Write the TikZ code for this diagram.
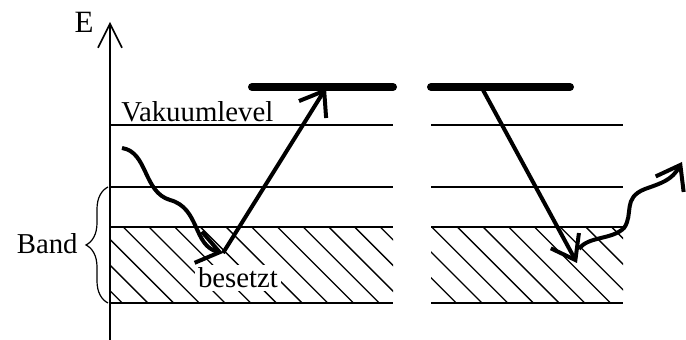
\documentclass[tikz,border=0pt]{standalone}
\usepackage{fontspec}
\setmainfont{Liberation Serif}
\usetikzlibrary{arrows.meta, positioning, decorations.pathreplacing}

\begin{document}
\begin{tikzpicture}[
    x=0.5pt, y=-0.5pt,
    lbl/.style={font=\fontsize{14.4}{17}\selectfont, inner sep=0pt},
    level/.style={line width=0.8pt},
    hatch/.style={line width=0.65pt},
    bar/.style={line width=4pt, line cap=round},
    axis/.style={line width=0.8pt, -{Straight Barb[length=12pt, width=12pt]}},
    jump/.style={line width=2pt, -{Straight Barb[length=11pt, width=16pt]}},
    photon/.style={jump},  % wavy light quantum
    bracestyle/.style={line width=0.6pt, decorate, decoration={brace, amplitude=11pt}}
]
\useasboundingbox (0,0) rectangle (686,340);

% ===== AXIS =====
\coordinate (axisBot) at (110,340);
\coordinate (axisTip) at (110,22);
\draw[axis] (axisBot) -- (axisTip);
\node[lbl, font=\fontsize{15.5}{18}\selectfont, anchor=base] (elabel) at (84,33) {E};

% ===== HATCHED (OCCUPIED) BAND =====
\begin{scope}
  \clip (110,227) rectangle (393,303);
  \foreach \k in {-3,...,10}
    \draw[hatch] ({123.3+25.7*\k},227) -- ++(80,80);
\end{scope}
\begin{scope}
  \clip (431,227) rectangle (623,303);
  \foreach \k in {10,...,19}
    \draw[hatch] ({123.3+25.7*\k},227) -- ++(80,80);
\end{scope}

% ===== LEVELS =====
% left panel
\draw[level] (110,125) -- (393,125);
\draw[level] (110,187) -- (393,187);
\draw[level] (110,227) -- (393,227);
\draw[level] (110,303) -- (393,303);
% right panel
\draw[level] (431,125) -- (623,125);
\draw[level] (431,187) -- (623,187);
\draw[level] (431,227) -- (623,227);
\draw[level] (431,303) -- (623,303);

% excited states
\draw[bar] (252,87) -- (393,87);
\draw[bar] (431,87) -- (570,87);

% ===== LABELS =====
\node[lbl, anchor=base west] (vac) at (121,122) {Vakuumlevel};
\node[lbl, fill=white, inner sep=1.5pt, anchor=base] (occ) at (238,288) {besetzt};

% band brace
\draw[bracestyle] (108,303) -- (108,187);
\coordinate (braceTip) at (86,244);
\node[lbl, left=4pt of braceTip] (band) {Band};

% ===== TRANSITIONS =====
\coordinate (phIn) at (122,148);
\coordinate (exStart) at (223,253);
\coordinate (exEnd) at (326,88);
\coordinate (deStart) at (483,90);
\coordinate (deEnd) at (577,263);
\coordinate (phOut) at (579,249);
\coordinate (phEnd) at (682,162);

% absorption
\draw[photon] (phIn) .. controls (148,152) and (143,192) .. (170,200)
    .. controls (200,208) and (193,246) .. (exStart);
\draw[jump] (exStart) -- (exEnd);

% emission
\draw[jump] (deStart) -- (deEnd);
\draw[photon] (phOut) .. controls (588,236) and (612,240) .. (624,228)
    .. controls (634,214) and (622,198) .. (645,189)
    .. controls (662,183) and (672,180) .. (phEnd);

\end{tikzpicture}
\end{document}
